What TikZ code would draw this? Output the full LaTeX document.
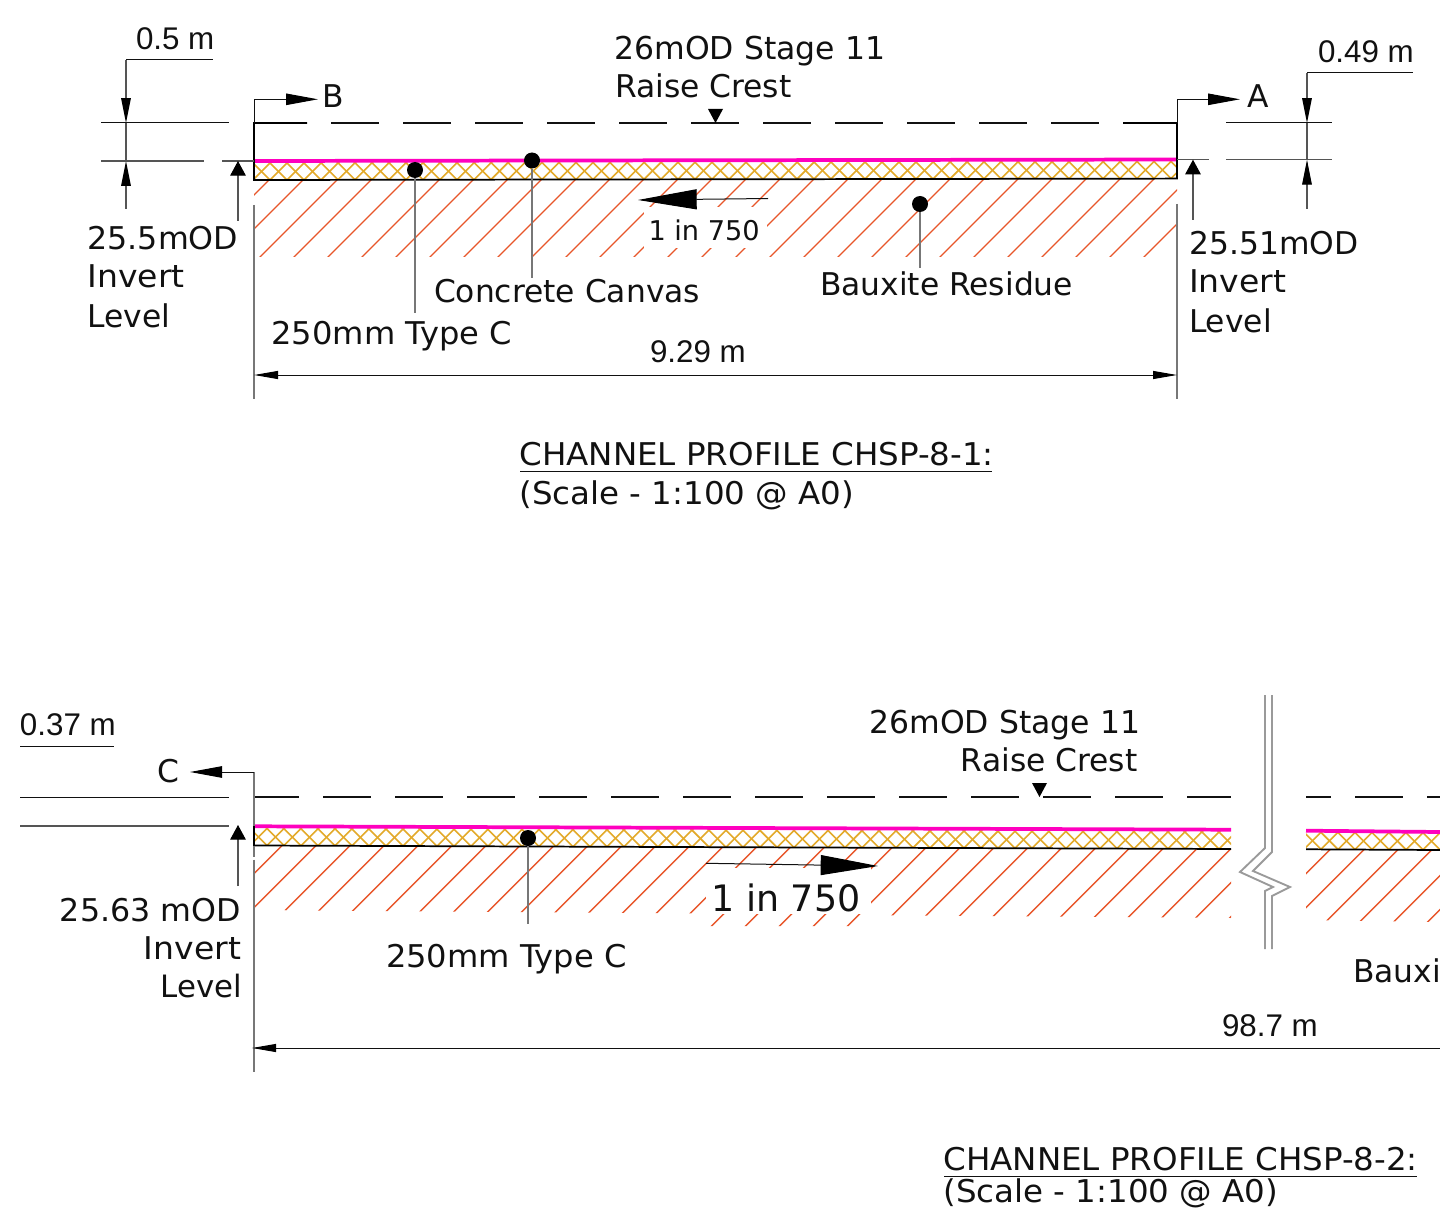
\documentclass[tikz,border=0pt]{standalone}
\usepackage{fontspec}
\setmainfont{DejaVu Sans}
\newfontfamily\dimfont{Liberation Sans}
\newfontfamily\titlefont[FakeStretch=1.037]{DejaVu Sans}
\newfontfamily\typefont[FakeStretch=1.026]{DejaVu Sans}
\newfontfamily\invertfont[FakeStretch=1.055]{DejaVu Sans}
\newfontfamily\levelfont[FakeStretch=1.012]{DejaVu Sans}
\usetikzlibrary{arrows.meta}
\definecolor{inkc}{HTML}{111111}
\definecolor{dimc}{HTML}{555555}
\definecolor{leaderc}{HTML}{777777}
\definecolor{pinkc}{HTML}{FF00BF}
\definecolor{hatchc}{HTML}{E8562A}
\definecolor{crossc}{HTML}{E3AA2B}
\definecolor{breakc}{HTML}{9A9A9A}
\tikzset{
  lbl/.style={inner sep=0pt,outer sep=0pt,text=inkc,anchor=base west,xshift=-0.75pt,font=\fontsize{23.5}{28}\selectfont},
  lblr/.style={lbl,anchor=base east,xshift=1.5pt},
  dimlbl/.style={lbl,xshift=0.75pt,font=\dimfont\fontsize{23.5}{28}\selectfont},
  titlelbl/.style={lbl,font=\titlefont\fontsize{23.5}{28}\selectfont},
  typelbl/.style={lbl,font=\typefont\fontsize{23.5}{28}\selectfont},
  invertlbl/.style={lbl,font=\invertfont\fontsize{23.5}{28}\selectfont},
  levellbl/.style={lbl,font=\levelfont\fontsize{23.5}{28}\selectfont},
  crestlbl/.style={lbl,font=\fontsize{23.6}{28}\selectfont},
  slopesmall/.style={lbl,font=\fontsize{20.4}{24}\selectfont},
  slopebig/.style={lbl,font=\fontsize{27.3}{32}\selectfont},
  thin line/.style={draw=inkc,line width=0.75pt},
  dimline/.style={draw=dimc,line width=0.8pt},
  leader/.style={draw=leaderc,line width=1.1pt},
  edge line/.style={draw=black,line width=1.3pt,line join=miter},
  crest/.style={draw=inkc,line width=1.1pt},
  pink line/.style={draw=pinkc,line width=2.8pt},
  hatch line/.style={draw=hatchc,line width=1.05pt},
  cross line/.style={draw=crossc,line width=1.2pt},
  break line/.style={draw=breakc,line width=1.4pt,line join=miter},
  dotmark/.style={circle,fill=black,inner sep=0pt,minimum size=12pt},
  longtip/.style={-{Triangle[length=18.7pt,width=7.2pt,color=black,fill=black]}},
  levtip/.style={-{Triangle[length=11pt,width=11.7pt,color=black,fill=black]}},
  sectip/.style={-{Triangle[length=24pt,width=8.6pt,color=black,fill=black]}},
  spantip/.style={-{Triangle[length=18pt,width=6pt,color=black,fill=black]}},
  spantips/.style={{Triangle[length=18pt,width=6pt,color=black,fill=black]}-{Triangle[length=18pt,width=6pt,color=black,fill=black]}},
  slopetipa/.style={-{Triangle[length=44pt,width=15pt,color=black,fill=black]}},
  slopetipb/.style={-{Triangle[length=43pt,width=15pt,color=black,fill=black]}},
}
\newcommand{\crosshatch}[3]{% tip list, y at x=254, slope
  \foreach \tipx in {#1}{
    \pgfmathsetmacro{\tipy}{#2+(#3)*(\tipx-254)}
    \draw[cross line] ({\tipx},{\tipy}) -- ({\tipx+24},{\tipy-24});
    \draw[cross line] ({\tipx},{\tipy}) -- ({\tipx-24},{\tipy-24});
  }
}
\begin{document}
\begin{tikzpicture}[x=0.75pt,y=-0.75pt]
\useasboundingbox (0,0) rectangle (1440,1209);
\fill[white] (0,0) rectangle (1440,1209);

% ---------------- Profile CHSP-8-1 ----------------
\begin{scope}
  \clip (254,179.5) -- (1177,178.5) -- (1177,257) -- (254,257) -- cycle;
  \foreach \c in {449,483,...,1436}{
    \draw[hatch line] ({\c-170},170) -- ({\c-265},265);
  }
\end{scope}
\fill[white] (643.5,207) rectangle (767,248);
\begin{scope}
  \clip (254,160.5) -- (1177,159.2) -- (1177,178.5) -- (254,180) -- cycle;
  \crosshatch{236,253,...,1205}{180}{-0.001625}
\end{scope}
\draw[pink line] (254,161) -- (1177,159.5);
\draw[edge line] (307,123) -- (254,123) -- (254,180) -- (1177,178.6) -- (1177,123) -- (1123,123);
\foreach \d in {331,403,...,1051}{\draw[crest] (\d,123) -- ({\d+48},123);}
\fill[black] (708,109) -- (723,109) -- (715.5,123) -- cycle;

% section marks
\draw[thin line,sectip] (254,123) -- (254,99.3) -- (318,99.3);
\draw[thin line,sectip] (1177,123) -- (1177,99.3) -- (1240,99.3);
\node[lbl] (markB) at (323,108) {B};
\node[lbl] (markA) at (1248,108) {A};

% left level
\draw[thin line] (126,60) -- (213,60);
\draw[dimline,longtip] (126,60) -- (126,123);
\draw[dimline,longtip] (126,209) -- (126,161);
\draw[dimline] (126,123) -- (126,161);
\draw[thin line] (101,123) -- (229,123);
\draw[dimline] (101,161) -- (204,161);
\draw[dimline] (222,161) -- (254,161);
\draw[dimline,levtip] (238,221) -- (238,161);
\node[dimlbl] (dimA) at (136,50) {0.5 m};
\node[levellbl] (levA1) at (88.5,250) {25.5mOD};
\node[invertlbl] (levA2) at (88.5,287) {Invert};
\node[lbl] (levA3) at (88.5,327) {Level};

% right level
\draw[thin line] (1307,73) -- (1413,73);
\draw[dimline,longtip] (1307,73) -- (1307,123);
\draw[dimline,longtip] (1307,209) -- (1307,159.7);
\draw[dimline] (1307,123) -- (1307,159.7);
\draw[thin line] (1226,123) -- (1332,123);
\draw[dimline] (1177,159.7) -- (1209,159.7);
\draw[dimline] (1226,159.7) -- (1332,159.7);
\draw[dimline,levtip] (1193,220) -- (1193,159.7);
\node[dimlbl] (dimB) at (1318,63) {0.49 m};
\node[lbl] (levB1) at (1190.5,255) {25.51mOD};
\node[invertlbl] (levB2) at (1190,293) {Invert};
\node[lbl] (levB3) at (1190,333) {Level};

% crest
\node[crestlbl] (crestA1) at (615.5,60) {26mOD Stage 11};
\node[lbl] (crestA2) at (616,98) {Raise Crest};

% slope
\draw[thin line,slopetipa] (768,198.5) -- (638,200);
\node[slopesmall] (slopeA) at (649.5,240.5) {1 in 750};

% material leaders
\node[dotmark] (dotC) at (415,170) {};
\node[dotmark] (dotD) at (532,160.5) {};
\node[dotmark] (dotE) at (920,204) {};
\coordinate (legC) at (415,313);
\coordinate (legD) at (532,278);
\coordinate (legE) at (920,268);
\draw[leader] (dotC.south) -- (legC);
\draw[leader] (dotD.south) -- (legD);
\draw[leader] (dotE.south) -- (legE);
\node[typelbl] (typeC) at (272.5,344.5) {250mm Type C};
\node[lbl] (canvas) at (435,302) {Concrete Canvas};
\node[lbl] (bauxA) at (821,296) {Bauxite Residue};

% span
\draw[leader] (254,205) -- (254,399);
\draw[leader] (1177,204) -- (1177,399);
\draw[thin line,spantips] (254,375) -- (1177,375);
\node[dimlbl] (spanA) at (650,363) {9.29 m};

% title
\node[titlelbl] (titleA1) at (520.5,465) {CHANNEL PROFILE CHSP-8-1:};
\node[titlelbl] (titleA2) at (520.5,504) {(Scale - 1:100 @ A0)};
\draw[thin line] (520,471) -- (992,471);

% ---------------- Profile CHSP-8-2 ----------------
\begin{scope}
  \clip (254,845.5) -- (1231,849) -- (1231,918) -- (871,915.2) -- (871,926) -- (706,926) -- (706,913.5) -- (254,910) -- cycle;
  \foreach \c in {1093.7,1127.7,...,2160}{
    \draw[hatch line] ({\c-835},835) -- ({\c-935},935);
  }
\end{scope}
\fill[white] (706,867.5) rectangle (871,914);
\begin{scope}
  \clip (1306,849.3) -- (1440,850) -- (1440,922) -- (1306,920) -- cycle;
  \foreach \c in {2145.7,2179.7,...,2400}{
    \draw[hatch line] ({\c-835},835) -- ({\c-935},935);
  }
\end{scope}
\begin{scope}
  \clip (254,826) -- (1231,829.7) -- (1231,849) -- (254,845.5) -- cycle;
  \crosshatch{233,250,...,1265}{845.5}{0.00358}
\end{scope}
\begin{scope}
  \clip (1306,831) -- (1440,832) -- (1440,850) -- (1306,849.3) -- cycle;
  \crosshatch{1287,1304,...,1465}{845.5}{0.00358}
\end{scope}
\draw[pink line] (254,826.3) -- (1231,829.7);
\draw[pink line] (1306,830.7) -- (1440,832);
\draw[edge line] (254,826) -- (254,845.5) -- (1231,849);
\draw[edge line] (1306,849.3) -- (1440,850);
\draw[crest] (254,797) -- (299,797);
\foreach \d in {323,395,...,1115}{\draw[crest] (\d,797) -- ({\d+48},797);}
\draw[crest] (1187,797) -- (1231,797);
\draw[crest] (1306,797) -- (1331,797);
\draw[crest] (1355,797) -- (1403,797);
\draw[crest] (1427,797) -- (1440,797);
\fill[black] (1032,783) -- (1047,783) -- (1039.5,797) -- cycle;

% break line
\draw[break line] (1265,695) -- (1265,848) -- (1240,872) -- (1273,887) -- (1265,891) -- (1265,949);
\draw[break line] (1272,695) -- (1272,852) -- (1253,871) -- (1290,887) -- (1272,896) -- (1272,949);

% section mark and level
\draw[leader] (254,772) -- (254,826);
\draw[leader] (254,846) -- (254,857);
\draw[leader] (254,859.5) -- (254,1072);
\draw[thin line,sectip] (254,772) -- (190,772);
\node[lbl] (markC) at (158,782) {C};
\draw[thin line] (20,797) -- (229,797);
\draw[dimline] (20,826) -- (229,826);
\draw[thin line] (20,746.7) -- (114,746.7);
\node[dimlbl] (dimC) at (20,735) {0.37 m};
\draw[dimline,levtip] (238,886) -- (238,825);
\node[lblr,font=\levelfont\fontsize{23.5}{28}\selectfont] (levC1) at (240,921) {25.63 mOD};
\node[lblr,font=\invertfont\fontsize{23.5}{28}\selectfont] (levC2) at (240,959) {Invert};
\node[lblr,font=\fontsize{23.1}{28}\selectfont] (levC3) at (241,997) {Level};

% crest
\node[crestlbl] (crestB1) at (870.5,733) {26mOD Stage 11};
\node[lblr] (crestB2) at (1136.5,771) {Raise Crest};

% slope
\draw[thin line,slopetipb] (706,863.3) -- (878,866);
\node[slopebig] (slopeB) at (712.5,911.7) {1 in 750};

% material
\node[dotmark] (dotF) at (528,838) {};
\coordinate (legF) at (528,924);
\draw[leader] (dotF.south) -- (legF);
\node[typelbl] (typeF) at (387,967) {250mm Type C};
\node[lbl] (bauxB) at (1354,982) {Bauxi};

% span
\draw[thin line,spantip] (1440,1048) -- (252,1048);
\node[dimlbl] (spanB) at (1222,1036) {98.7 m};

% title
\node[titlelbl] (titleB1) at (944.5,1170) {CHANNEL PROFILE CHSP-8-2:};
\node[titlelbl] (titleB2) at (944.5,1202.5) {(Scale - 1:100 @ A0)};
\draw[thin line] (944,1176) -- (1417,1176);
\end{tikzpicture}
\end{document}
